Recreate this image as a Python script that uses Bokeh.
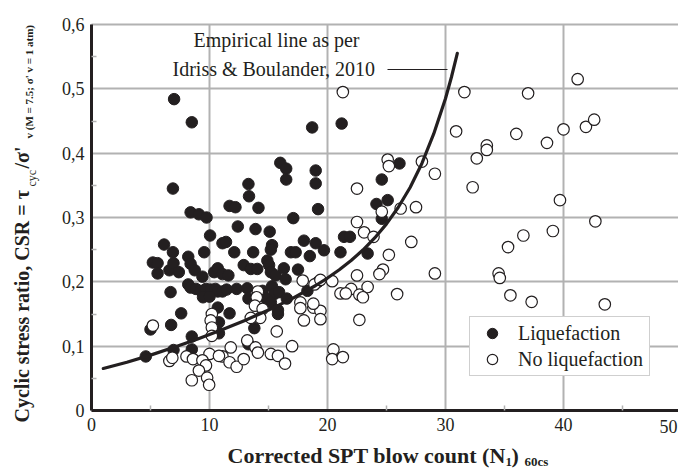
import math
from bokeh.plotting import figure
from bokeh.models import (Label, Legend, LegendItem, FixedTicker, Grid,
                          CustomJSTickFormatter, Arrow, Range1d)
from bokeh.embed import file_html
from bokeh.resources import INLINE

# ---------------- data ----------------
liq_n = [7.0, 8.5, 18.7, 21.2, 6.9, 16.0, 16.5, 16.5, 19.0, 19.0, 19.2, 13.3, 13.35,
         8.4, 9.1, 9.75, 11.7, 12.2, 14.15, 17.1, 12.4, 13.9, 15.1, 10.05,
         26.1, 24.6, 24.15, 25.1, 24.6, 21.4, 21.9, 21.1, 23.4,
         6.15, 6.9, 8.2, 9.55, 11.1, 11.4, 12.1, 13.7, 15.3, 15.2, 16.9, 17.3, 18.0, 19.0, 18.5, 19.7,
         5.2, 5.6, 5.6, 6.6, 6.95, 7.4, 8.4, 8.75, 9.4, 10.4, 10.7, 11.1, 11.6, 12.9, 13.5, 14.05,
         14.9, 15.05, 15.2, 15.6, 16.3, 16.45, 17.5,
         8.2, 8.4, 8.85, 9.26, 9.6, 9.7, 10.1, 10.5, 10.7, 11.1, 11.45, 12.3, 13.2, 14.5, 15.3,
         15.5, 15.9, 16.55, 18.3, 19.2,
         9.45, 10.0, 13.3, 14.8, 15.2,
         6.7, 7.6, 10.7, 11.7, 10.8, 10.8, 6.75, 5.0, 8.5, 8.5, 13.8, 15.8, 15.8, 13.3, 4.6, 6.95]
liq_csr = [0.484, 0.448, 0.440, 0.446, 0.345, 0.385, 0.376, 0.359, 0.373, 0.353, 0.313, 0.352, 0.333,
           0.308, 0.305, 0.300, 0.318, 0.316, 0.315, 0.299, 0.286, 0.282, 0.278, 0.272,
           0.384, 0.359, 0.321, 0.327, 0.298, 0.270, 0.270, 0.246, 0.244,
           0.258, 0.246, 0.239, 0.246, 0.260, 0.262, 0.246, 0.246, 0.257, 0.250, 0.246, 0.246, 0.264, 0.260, 0.240, 0.249,
           0.230, 0.229, 0.213, 0.218, 0.229, 0.215, 0.228, 0.218, 0.208, 0.215, 0.221, 0.212, 0.210, 0.226, 0.220, 0.220,
           0.233, 0.226, 0.215, 0.210, 0.221, 0.204, 0.219,
           0.196, 0.191, 0.189, 0.186, 0.182, 0.189, 0.188, 0.189, 0.185, 0.185, 0.188, 0.189, 0.190, 0.186, 0.193,
           0.181, 0.184, 0.174, 0.186, 0.200,
           0.176, 0.177, 0.174, 0.174, 0.168,
           0.184, 0.151, 0.160, 0.151, 0.137, 0.120, 0.133, 0.126, 0.115, 0.095, 0.128, 0.150, 0.156, 0.103, 0.084, 0.094]

noliq_n = [21.3, 31.6, 37.0, 41.2, 30.9, 36.0, 40.0, 41.9, 42.6, 33.5, 33.5, 38.6, 32.65, 25.1, 25.2,
           28.0, 29.1, 32.3, 22.5, 39.7, 27.5, 26.2, 24.6, 42.7, 22.5, 23.1, 36.6, 39.1, 27.1, 23.9,
           35.3, 25.2, 24.7, 24.4, 22.5, 29.1, 20.4, 34.5, 34.6, 35.5, 37.3, 43.5, 25.9, 23.4, 22.0,
           21.1, 21.55, 22.7, 23.0, 22.7, 20.5, 20.4, 21.3,
           5.2, 10.2, 10.1, 10.2, 10.2, 14.1, 14.0, 13.85, 14.5, 14.3, 13.5, 15.7, 17.9, 18.9, 17.7,
           17.7, 18.8, 19.4, 19.4, 18.0, 13.2, 13.9, 14.1, 11.8, 11.1, 11.7, 12.3, 12.9, 10.0, 10.8,
           8.05, 8.6, 6.6, 6.85, 9.4, 9.7, 9.1, 8.5, 9.8, 9.97, 15.2, 15.8, 16.4, 17.0, 18.8, 19.4]
noliq_csr = [0.495, 0.495, 0.493, 0.515, 0.434, 0.430, 0.437, 0.441, 0.452, 0.412, 0.405, 0.416, 0.392, 0.390, 0.380,
             0.387, 0.368, 0.347, 0.345, 0.327, 0.316, 0.314, 0.309, 0.294, 0.293, 0.277, 0.272, 0.279, 0.262, 0.270,
             0.254, 0.242, 0.219, 0.212, 0.210, 0.213, 0.201, 0.213, 0.206, 0.179, 0.169, 0.165, 0.181, 0.192, 0.189,
             0.182, 0.182, 0.180, 0.176, 0.141, 0.095, 0.080, 0.083,
             0.132, 0.150, 0.140, 0.129, 0.116, 0.185, 0.176, 0.163, 0.158, 0.144, 0.144, 0.123, 0.202, 0.196, 0.168,
             0.159, 0.160, 0.155, 0.142, 0.140, 0.109, 0.098, 0.090, 0.098, 0.084, 0.075, 0.068, 0.080, 0.088, 0.085,
             0.084, 0.080, 0.077, 0.082, 0.078, 0.070, 0.062, 0.047, 0.051, 0.040, 0.088, 0.085, 0.073, 0.100, 0.166, 0.203]

# empirical boundary curve (Idriss & Boulanger, 2010)
curve_n = [1, 3, 5, 7, 9, 11, 13, 15, 17, 19, 20, 21, 22, 23, 24, 25, 26, 27, 28, 29, 30, 30.5, 31]
curve_csr = [0.0653, 0.0751, 0.0861, 0.0982, 0.1112, 0.1251, 0.1400, 0.1561, 0.1739, 0.1943,
             0.2059, 0.2187, 0.2331, 0.2494, 0.2682, 0.2901, 0.3159, 0.3467, 0.3840, 0.4299,
             0.4849, 0.5180, 0.5551]

x_ticks = [0, 10, 20, 30, 40]
x_minor = [5, 15, 25, 35, 45]
y_ticks = [0, 0.1, 0.2, 0.3, 0.4, 0.5, 0.6]
y_minor = [0.05, 0.15, 0.25, 0.35, 0.45, 0.55]

# ---------------- layout / styling ----------------
FONT = "Liberation Serif"
INK = "#231f20"
GRID = "#b2b2b2"

W, H = 678, 469            # canvas == plotting frame; axes are pinned at 0
X0_PX, Y0_PX = 91, 410     # canvas position of the (0, 0) corner
XSCALE = 11.8              # px per blow count
YSCALE = (410 - 24) / 0.6  # px per CSR unit
Y_TOP = 0.6


def dx(px):
    return (px - X0_PX) / XSCALE


def dy(py):
    return (Y0_PX - py) / YSCALE


XMAX = dx(W)

p = figure(width=W, height=H, x_range=Range1d(dx(0), XMAX), y_range=Range1d(dy(H), dy(0)),
           output_backend="svg", toolbar_location=None,
           min_border_left=0, min_border_right=0, min_border_top=0, min_border_bottom=0)
p.outline_line_color = None
p.background_fill_color = "white"
p.border_fill_color = "white"

p.xaxis.fixed_location = 0
p.yaxis.fixed_location = 0
p.xaxis.bounds = (0, XMAX)
p.yaxis.bounds = (0, Y_TOP)
p.xaxis.ticker = FixedTicker(ticks=x_ticks, minor_ticks=x_minor)
p.yaxis.ticker = FixedTicker(ticks=y_ticks, minor_ticks=y_minor)
p.xaxis.formatter = CustomJSTickFormatter(code="return tick.toFixed(0);")
p.yaxis.formatter = CustomJSTickFormatter(
    code="return tick == 0 ? '0' : tick.toFixed(1).replace('.', ',');")

for ax in (p.xaxis, p.yaxis):
    ax.axis_line_color = INK
    ax.axis_line_width = 3
    ax.major_tick_line_color = None
    ax.major_tick_in = 0
    ax.major_tick_out = 0
    ax.minor_tick_in = 5
    ax.minor_tick_out = 0
    ax.minor_tick_line_color = GRID
    ax.minor_tick_line_width = 1.5
    ax.major_label_text_font = FONT
    ax.major_label_text_font_size = "18px"
    ax.major_label_text_color = INK
    ax.major_label_standoff = 7

# grid restricted to the data box
has_cross = "cross_bounds" in Grid.properties()
p.xgrid.ticker = FixedTicker(ticks=x_ticks)
p.ygrid.ticker = FixedTicker(ticks=y_ticks)
if has_cross:
    p.xgrid.bounds = (0, XMAX)
    p.ygrid.bounds = (0, Y_TOP)
    p.xgrid.cross_bounds = (0, Y_TOP)
    p.ygrid.cross_bounds = (0, XMAX)
    for g in (p.xgrid, p.ygrid):
        g.grid_line_color = GRID
        g.grid_line_width = 2
        g.level = "underlay"
else:
    p.xgrid.visible = False
    p.ygrid.visible = False
    p.segment(x0=x_ticks, y0=[0] * len(x_ticks), x1=x_ticks, y1=[Y_TOP] * len(x_ticks),
              line_color=GRID, line_width=2, level="underlay")
    p.segment(x0=[0] * len(y_ticks), y0=y_ticks, x1=[XMAX] * len(y_ticks), y1=y_ticks,
              line_color=GRID, line_width=2, level="underlay")

r_liq = p.scatter(liq_n, liq_csr, size=11.5, fill_color=INK, line_color=INK, line_width=1)
r_no = p.scatter(noliq_n, noliq_csr, size=11.5, fill_color="white", line_color=INK, line_width=1.2)
p.line(curve_n, curve_csr, line_width=3.2, color=INK, line_cap="round")


def lab(px, py, text, size, bold=False, rotated=False, align="left"):
    """Place a text whose baseline passes through canvas pixel (px, py)."""
    shift = 0.35 * size  # 'middle' anchor sits this far above the baseline
    if rotated:
        ax_, ay_, ang = px - shift, py, math.pi / 2
    else:
        ax_, ay_, ang = px, py - shift, 0.0
    p.add_layout(Label(x=dx(ax_), y=dy(ay_), text=text, text_font=FONT,
                       text_font_size=f"{size}px",
                       text_font_style="bold" if bold else "normal",
                       text_color=INK, text_align=align, text_baseline="middle",
                       angle=ang))


# annotation of the curve
lab(276, 46, "Empirical line as per", 20, align="center")
lab(172, 75, "Idriss & Boulander, 2010", 20)
p.add_layout(Arrow(x_start=dx(387), y_start=dy(69), x_end=dx(447), y_end=dy(69),
                   end=None, line_color=INK, line_width=1.2))

# legend
legend = Legend(items=[LegendItem(label="Liquefaction", renderers=[r_liq]),
                       LegendItem(label="No liquefaction", renderers=[r_no])],
                location=(469, H - 376), border_line_color="#a0a0a0", border_line_width=1.5,
                background_fill_color="white", background_fill_alpha=1,
                padding=3, spacing=0, margin=0, glyph_width=38, glyph_height=26,
                label_height=26, label_width=128, label_standoff=7, label_text_font=FONT,
                label_text_font_size="20px", label_text_color=INK)
p.add_layout(legend)

# last tick label at the right edge
lab(677, 432, "50", 18, align="right")

# x axis title (with subscripts)
lab(227, 463, "Corrected SPT blow count (N", 22, bold=True)
lab(505, 466, "1", 13, bold=True)
lab(511, 463, ")", 22, bold=True)
lab(524, 466, "60cs", 13, bold=True)

# y axis title (rotated, with subscripts)
lab(28, 422, "Cyclic stress ratio, CSR = τ", 20, bold=True, rotated=True)
lab(36, 186, "cyc", 12, rotated=True)
lab(28, 168, "/σ'", 20, bold=True, rotated=True)
lab(32, 138, "v (M = 7.5; σ' v = 1 atm)", 11, bold=True, rotated=True)

open("out.html", "w").write(file_html(p, INLINE))
